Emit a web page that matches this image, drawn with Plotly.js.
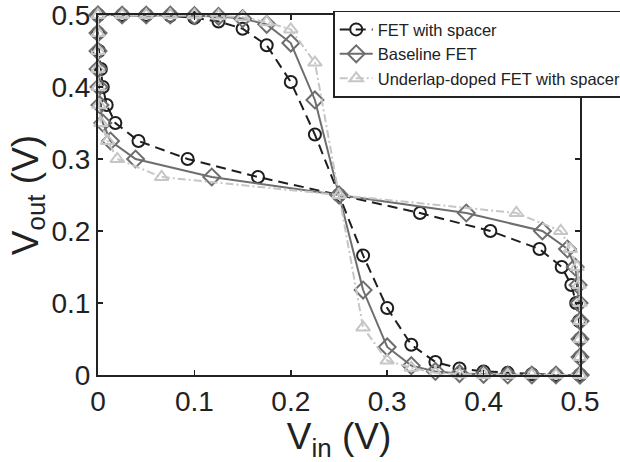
<!DOCTYPE html>
<html>
<head>
<meta charset="utf-8">
<script src="https://cdn.plot.ly/plotly-3.0.1.min.js"></script>
<style>html,body{margin:0;padding:0;background:#fff;}#chart{width:620px;height:462px;overflow:hidden;}</style>
</head>
<body>
<div id="chart"></div>
<script>
// Input voltage grid (V)
var vin = [0, 0.025, 0.05, 0.075, 0.1, 0.125, 0.15, 0.175, 0.2, 0.225, 0.25,
           0.275, 0.3, 0.325, 0.35, 0.375, 0.4, 0.425, 0.45, 0.475, 0.5];
// Output voltages (V)
var voutSpacer   = [0.5, 0.5, 0.5, 0.499, 0.496, 0.491, 0.481, 0.458, 0.407, 0.334, 0.25,
                    0.166, 0.093, 0.042, 0.018, 0.009, 0.005, 0.003, 0.001, 0, 0];
var voutBaseline = [0.5, 0.5, 0.5, 0.5, 0.499, 0.498, 0.495, 0.487, 0.461, 0.382, 0.25,
                    0.118, 0.039, 0.013, 0.005, 0.002, 0.001, 0, 0, 0, 0];
var voutUnderlap = [0.5, 0.5, 0.5, 0.5, 0.5, 0.499, 0.497, 0.49, 0.48, 0.434, 0.25,
                    0.066, 0.02, 0.01, 0.003, 0.001, 0, 0, 0, 0, 0];
var seriesNames = ['FET with spacer', 'Baseline FET', 'Underlap-doped FET with spacer'];
var ticks = [0, 0.1, 0.2, 0.3, 0.4, 0.5];
var tickText = ['0', '0.1', '0.2', '0.3', '0.4', '0.5'];

var styles = [
  {color: '#1e1e1e', dash: '10px,6px', symbol: 'circle-open', size: 12},
  {color: '#6e6e6e', dash: 'solid', symbol: 'diamond-open', size: 13},
  {color: '#c6c6c6', dash: '8px,3px,2px,3px', symbol: 'triangle-up-open', size: 12}
];
var vouts = [voutSpacer, voutBaseline, voutUnderlap];

var traces = [];
vouts.forEach(function (vo, i) {
  var st = styles[i];
  var common = {
    type: 'scatter', mode: 'lines+markers', cliponaxis: false,
    line: {color: st.color, width: 2, dash: st.dash},
    marker: {symbol: st.symbol, size: st.size, color: st.color, line: {color: st.color, width: 2}}
  };
  traces.push(Object.assign({}, common, {x: vin, y: vo, name: seriesNames[i], showlegend: true}));
  traces.push(Object.assign({}, common, {x: vo, y: vin, name: seriesNames[i], showlegend: false}));
});

var fontFam = 'Liberation Sans, Arial, Helvetica, sans-serif';
var axisCommon = {
  range: [0, 0.5], tickvals: ticks, ticktext: tickText,
  ticks: 'inside', ticklen: 5, tickwidth: 1.5, tickcolor: '#222',
  showline: true, linecolor: '#222', linewidth: 2, mirror: 'ticks',
  showgrid: false, zeroline: false,
  tickfont: {family: fontFam, size: 28, color: '#222'},
  ticklabeloverflow: 'allow',
  automargin: false
};

var layout = {
  width: 620, height: 462,
  margin: {l: 98, r: 40, t: 15, b: 87, autoexpand: false},
  paper_bgcolor: '#fff', plot_bgcolor: '#fff',
  font: {family: fontFam, color: '#222'},
  xaxis: Object.assign({}, axisCommon, {
    title: {text: 'V<sub>in</sub> (V)', font: {family: fontFam, size: 37, color: '#222'}, standoff: 2}
  }),
  yaxis: Object.assign({}, axisCommon, {
    title: {text: 'V<sub>out</sub> (V)', font: {family: fontFam, size: 37, color: '#222'}, standoff: 2}
  }),
  legend: {
    x: 0.488, y: 1.012, xanchor: 'left', yanchor: 'top',
    bgcolor: '#fff', bordercolor: '#222', borderwidth: 1.5,
    font: {family: fontFam, size: 16.5, color: '#222'},
    tracegroupgap: 0, itemwidth: 33
  },
  showlegend: true
};

Plotly.newPlot('chart', traces, layout, {displayModeBar: false, staticPlot: true});
</script>
</body>
</html>
